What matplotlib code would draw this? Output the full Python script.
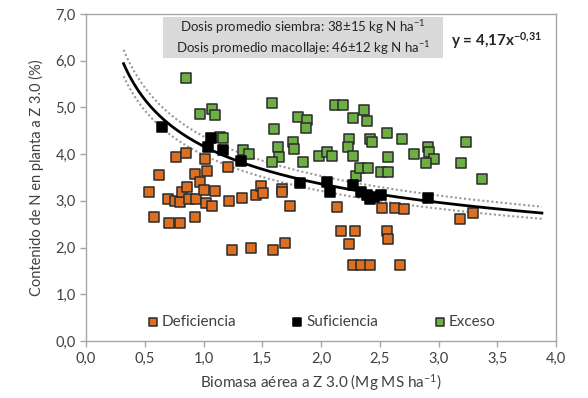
import matplotlib
matplotlib.use("Agg")
import matplotlib.pyplot as plt
import numpy as np
from matplotlib.patches import Rectangle

plt.rcParams['font.family'] = ['Lato', 'DejaVu Sans']
plt.rcParams['mathtext.fontset'] = 'custom'
plt.rcParams['mathtext.rm'] = 'Lato'
plt.rcParams['mathtext.it'] = 'Lato:italic'
plt.rcParams['mathtext.bf'] = 'Lato:bold'

# Deficiencia
def_x = [0.54, 0.58, 0.62, 0.70, 0.71, 0.76, 0.77, 0.80, 0.80, 0.82, 0.85, 0.86, 0.88,
         0.93, 0.93, 0.94, 0.97, 1.00, 1.01, 1.02, 1.03, 1.07, 1.10, 1.21, 1.22, 1.24,
         1.33, 1.40, 1.45, 1.49, 1.51, 1.59, 1.67, 1.67, 1.69, 1.74, 2.14, 2.17, 2.24,
         2.27, 2.29, 2.34, 2.42, 2.52, 2.56, 2.57, 2.63, 2.67, 2.71, 3.18, 3.29]
def_y = [3.20, 2.65, 3.55, 3.05, 2.53, 3.00, 3.93, 2.98, 2.53, 3.20, 4.02, 3.29, 3.05,
         3.58, 2.65, 3.05, 3.41, 3.23, 3.89, 2.96, 3.63, 2.89, 3.22, 3.73, 3.00, 1.95,
         3.07, 2.00, 3.12, 3.32, 3.16, 1.95, 3.26, 3.18, 2.10, 2.88, 2.86, 2.36, 2.08,
         1.63, 2.36, 1.63, 1.63, 2.85, 2.36, 2.19, 2.85, 1.63, 2.83, 2.61, 2.75]

# Suficiencia
suf_x = [0.65, 1.04, 1.06, 1.17, 1.32, 1.82, 2.05, 2.08, 2.27, 2.34, 2.39, 2.42, 2.45, 2.51, 2.91]
suf_y = [4.59, 4.16, 4.34, 4.09, 3.85, 3.38, 3.41, 3.18, 3.34, 3.20, 3.13, 3.05, 3.08, 3.13, 3.06]

# Exceso
exc_x = [0.85, 0.97, 1.07, 1.10, 1.14, 1.17, 1.34, 1.39, 1.58, 1.60, 1.63, 1.64, 1.58,
         1.76, 1.77, 1.80, 1.88, 1.87, 1.85, 1.98, 2.05, 2.09, 2.12, 2.19, 2.24, 2.23,
         2.27, 2.27, 2.37, 2.39, 2.42, 2.43, 2.30, 2.33, 2.40, 2.51, 2.57, 2.56, 2.57,
         2.69, 2.79, 2.91, 2.92, 2.96, 2.89, 3.19, 3.23, 3.37]
exc_y = [5.62, 4.86, 4.97, 4.84, 4.37, 4.34, 4.09, 4.00, 5.10, 4.53, 4.16, 3.93, 3.84,
         4.25, 4.12, 4.79, 4.73, 4.55, 3.83, 3.96, 4.05, 3.96, 5.05, 5.05, 4.33, 4.15,
         3.96, 4.78, 4.95, 4.72, 4.33, 4.25, 3.53, 3.70, 3.70, 3.62, 3.62, 4.45, 3.93,
         4.33, 4.00, 4.15, 4.04, 3.90, 3.82, 3.82, 4.27, 3.47]

fit_a = 4.17
fit_b = -0.31
fit_upper_factor = 1.05
fit_lower_factor = 0.955
fit_xmin, fit_xmax = 0.32, 3.88

x_ticks = [0.0, 0.5, 1.0, 1.5, 2.0, 2.5, 3.0, 3.5, 4.0]
y_ticks = [0, 1, 2, 3, 4, 5, 6, 7]

fig = plt.figure(figsize=(5.88, 3.98), dpi=100)
ax = fig.add_axes([86/588, 57/398, 470/588, 327/398])

orange = '#DD6F22'
green = '#6DAE45'
edge = '#2b2b2b'
ms = 56

ax.scatter(def_x, def_y, s=ms, marker='s', c=orange, edgecolors=edge, linewidths=1.1, label='Deficiencia', zorder=3)
ax.scatter(exc_x, exc_y, s=ms, marker='s', c=green, edgecolors=edge, linewidths=1.1, label='Exceso', zorder=3)
ax.scatter(suf_x, suf_y, s=ms, marker='s', c='black', edgecolors='black', linewidths=1.1, label='Suficiencia', zorder=4)

xf = np.linspace(fit_xmin, fit_xmax, 200)
yf = fit_a * xf ** fit_b
ax.plot(xf, yf, color='black', lw=2, zorder=5)
ax.plot(xf, yf * fit_upper_factor, color='#999999', lw=1.5, ls=(0, (1, 1.2)), zorder=2)
ax.plot(xf, yf * fit_lower_factor, color='#999999', lw=1.5, ls=(0, (1, 1.2)), zorder=2)

ax.set_xlim(0, 4.0)
ax.set_ylim(0, 7.0)
ax.set_xticks(x_ticks)
ax.set_yticks(y_ticks)
ax.set_xticklabels([f"{v:.1f}".replace('.', ',') for v in x_ticks])
ax.set_yticklabels([f"{v:.1f}".replace('.', ',') for v in y_ticks])
ax.tick_params(axis='both', labelsize=10.5, colors='#a6a6a6', labelcolor='#404040', length=4, width=1)
for s in ax.spines.values():
    s.set_color('#a6a6a6')
    s.set_linewidth(1)

ax.set_xlabel('Biomasa aérea a Z 3.0 (Mg MS ha$^{-1}$)', fontsize=11, color='#404040', labelpad=5)
ax.set_ylabel('Contenido de N en planta a Z 3.0 (%)', fontsize=10.5, color='#404040', labelpad=8)

# text box
ax.add_patch(Rectangle((0.164, 0.865), 0.596, 0.127, transform=ax.transAxes,
                       facecolor='#d9d9d9', edgecolor='none', zorder=6))
ax.text(0.462, 0.928,
        'Dosis promedio siembra: 38±15 kg N ha$^{-1}$\nDosis promedio macollaje: 46±12 kg N ha$^{-1}$',
        transform=ax.transAxes, ha='center', va='center', fontsize=9.5, color='#262626',
        linespacing=1.25, zorder=7)
ax.text(0.874, 0.92, 'y = 4,17x$^{\\mathbf{-0{,}31}}$', transform=ax.transAxes,
        ha='center', va='center', fontsize=11, fontweight='bold', color='#262626', zorder=7)

handles, labels = ax.get_legend_handles_labels()
order = [0, 2, 1]
leg = ax.legend([handles[i] for i in order], [labels[i] for i in order],
                loc='center', bbox_to_anchor=(0.5, 0.058), ncol=3, frameon=False,
                fontsize=11, columnspacing=3.6, handletextpad=0.2, handlelength=0.8,
                markerscale=0.85, borderaxespad=0)
for t in leg.get_texts():
    t.set_color('#404040')

fig.savefig('out.png', dpi=100)
